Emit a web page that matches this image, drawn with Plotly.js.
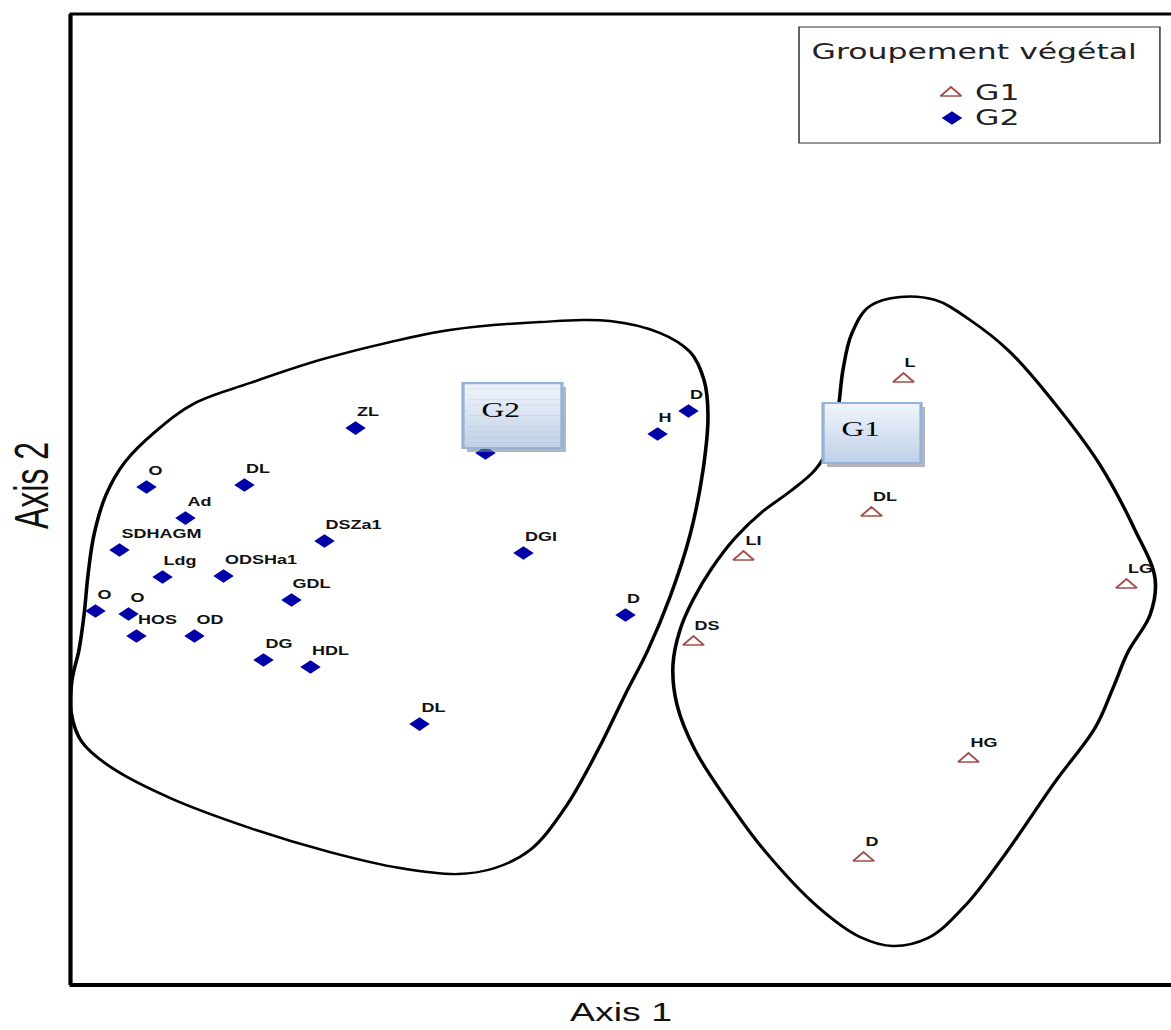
<!DOCTYPE html>
<html><head><meta charset="utf-8">
<script src="https://cdn.plot.ly/plotly-3.0.1.min.js"></script>
<style>
html,body{margin:0;padding:0;background:#fff;overflow:hidden;width:1171px;height:1030px}
#wrap{width:1171px;height:1030px;overflow:hidden;position:relative}
#chart{width:781px;height:1030px;transform:scaleX(1.5);transform-origin:0 0}
</style></head>
<body><div id="wrap"><div id="chart"></div></div>
<script>
// ---- data (arbitrary ordination units) ----
const g2Labels = ['O','DL','Ad','SDHAGM','Ldg','ODSHa1','O','O','HOS','OD','GDL','DG','HDL','DSZa1','ZL','','DGI','DL','H','D','D'];
const g2X = [6.90,15.80,10.44,4.45,8.36,13.90,2.27,5.27,5.99,11.26,20.07,17.53,21.80,23.07,25.89,37.69,41.14,31.70,53.32,56.13,50.41];
const g2Y = [51.44,51.64,48.25,44.97,42.20,42.30,38.71,38.40,36.14,36.14,39.84,33.68,32.96,45.89,57.49,54.93,44.66,27.10,56.88,59.24,38.30];

const g1Labels = ['L','DL','LI','LG','DS','HG','D'];
const g1X = [75.66,72.75,61.13,95.91,56.58,81.56,72.03];
const g1Y = [62.53,48.77,44.25,41.38,35.52,23.51,13.35];

// hand-drawn group outlines
const g2HullX = [34.47,42.64,49.00,53.54,56.27,57.54,57.90,57.45,56.27,54.45,52.45,50.36,47.91,44.91,41.74,38.56,35.20,29.93,23.57,16.30,9.04,3.77,1.04,0.05,0.14,0.77,1.23,1.59,2.13,3.22,4.95,7.67,11.31,16.30,22.66,29.02,34.47];
const g2HullY = [67.56,68.38,68.48,67.25,65.30,62.42,58.83,53.18,46.51,40.14,34.70,30.08,24.44,18.48,14.17,12.32,11.70,12.32,13.96,16.43,19.51,22.59,25.26,28.34,31.62,34.70,38.30,42.40,46.51,50.62,54.00,57.08,60.06,62.11,64.48,66.32,67.56];

const g1HullX = [89.87,93.51,96.69,98.50,98.05,96.05,94.69,93.05,89.42,84.51,81.15,77.88,74.70,71.71,67.89,62.99,59.63,56.72,55.09,54.72,55.36,56.54,58.26,60.35,62.81,65.53,67.62,68.98,69.71,70.16,70.98,72.62,75.34,78.52,81.70,85.33,89.87];
const g1HullY = [59.34,53.70,47.02,42.09,38.30,34.50,30.80,26.69,21.15,13.14,8.32,5.13,4.31,5.24,8.32,14.17,19.30,24.44,29.06,33.16,36.76,39.84,43.12,46.20,48.87,51.13,53.18,55.75,59.34,63.45,67.25,70.02,70.94,70.64,68.58,65.30,59.34];

const groupNames = ['G1','G2'];
const legendTitle = 'Groupement végétal';
const axisTitles = ['Axis 1','Axis 2'];

// ---- styles ----
const labelFont = {family:'Liberation Sans, Arial, sans-serif', size:12, color:'#111', weight:'bold'};
const g1Marker = {symbol:'triangle-up-open', size:12, color:'#a2504e', line:{width:1.5, color:'#a2504e'}};
const g2Marker = {symbol:'diamond', size:10.5, color:'#0000a8', line:{width:0}};
const hullLine = {color:'#000', width:2.4, shape:'spline', smoothing:1};

const traces = [
  {x:g2HullX, y:g2HullY, mode:'lines', line:hullLine, hoverinfo:'skip', showlegend:false},
  {x:g1HullX, y:g1HullY, mode:'lines', line:hullLine, hoverinfo:'skip', showlegend:false},
  {x:g1X, y:g1Y, mode:'markers', name:groupNames[0], marker:g1Marker, text:g1Labels},
  {x:g2X, y:g2Y, mode:'markers', name:groupNames[1], marker:g2Marker, text:g2Labels},
  // legend symbols on a hidden overlay axis (0..1 = plot area)
  {x:[0.7997], y:[0.9189], xaxis:'x2', yaxis:'y2', mode:'markers', marker:g1Marker, showlegend:false, hoverinfo:'skip'},
  {x:[0.8006], y:[0.8932], xaxis:'x2', yaxis:'y2', mode:'markers', marker:g2Marker, showlegend:false, hoverinfo:'skip'}
];

const annotations = [];
function addLabels(xs, ys, ls){
  xs.forEach((x,i)=>{ if(ls[i]) annotations.push({x:x, y:ys[i], xref:'x', yref:'y', text:ls[i], showarrow:false,
    xanchor:'left', yanchor:'middle', xshift:-1, yshift:16, font:labelFont}); });
}
addLabels(g2X, g2Y, g2Labels);
addLabels(g1X, g1Y, g1Labels);

const legFont = {family:'DejaVu Sans, sans-serif', size:21, color:'#222'};
annotations.push({xref:'paper', yref:'paper', x:0.8215, y:0.961, text:legendTitle, showarrow:false, xanchor:'center', yanchor:'middle', font:legFont});
annotations.push({xref:'paper', yref:'paper', x:0.8190, y:0.9189, text:groupNames[0], showarrow:false, xanchor:'left', yanchor:'middle', font:legFont});
annotations.push({xref:'paper', yref:'paper', x:0.8190, y:0.8932, text:groupNames[1], showarrow:false, xanchor:'left', yanchor:'middle', font:legFont});

const boxFont = {family:'Liberation Serif, Times New Roman, serif', size:21, color:'#000'};
annotations.push({xref:'paper', yref:'paper', x:0.3910, y:0.5934, text:groupNames[1], showarrow:false, xanchor:'center', yanchor:'middle', font:boxFont});
annotations.push({xref:'paper', yref:'paper', x:0.7180, y:0.5739, text:groupNames[0], showarrow:false, xanchor:'center', yanchor:'middle', font:boxFont});

// vertical axis title (placed as rotated text, slightly above the plot centre as in the picture)
annotations.push({xref:'paper', yref:'paper', x:-0.0355, y:0.5164, text:axisTitles[1], showarrow:false, textangle:-90, xanchor:'center', yanchor:'middle',
  font:{family:'Liberation Sans, Arial, sans-serif', size:32, color:'#111'}});

const shapes = [];
// frame: left, top, bottom (right edge is outside the picture)
shapes.push({type:'line', xref:'paper', yref:'paper', x0:0, x1:0, y0:0.003, y1:1.0, line:{color:'#000', width:2.8}});
shapes.push({type:'line', xref:'paper', yref:'paper', x0:-0.0009, x1:1.01, y0:1.0, y1:1.0, line:{color:'#000', width:3}});
shapes.push({type:'line', xref:'paper', yref:'paper', x0:-0.0009, x1:1.01, y0:0.003, y1:0.003, line:{color:'#000', width:4}});
// legend frame
shapes.push({type:'rect', xref:'paper', yref:'paper', x0:0.6617, x1:0.9895, y0:0.8676, y1:0.9867, line:{color:'#333', width:1}, fillcolor:'rgba(255,255,255,1)', layer:'below'});

// text boxes "G2" and "G1"
function textBox(x0,x1,y0,y1){
  const dx = 0.0036, dy = 0.0041;
  shapes.push({type:'rect', xref:'paper', yref:'paper', x0:x0+dx, x1:x1+dx, y0:y0-dy, y1:y1-dy, line:{width:0}, fillcolor:'rgba(130,130,140,0.6)'});
  const n = 12, top=[240,244,250], bot=[192,208,232];
  for(let i=0;i<n;i++){
    const t=(i+0.5)/n;
    const c = top.map((v,k)=>Math.round(v+(bot[k]-v)*t));
    shapes.push({type:'rect', xref:'paper', yref:'paper', x0:x0, x1:x1, y1:y1-(y1-y0)*i/n, y0:y1-(y1-y0)*(i+1)/n,
      line:{width:0}, fillcolor:'rgb('+c.join(',')+')'});
  }
  shapes.push({type:'rect', xref:'paper', yref:'paper', x0:x0, x1:x1, y0:y0, y1:y1, line:{color:'#95b3d7', width:2.2}, fillcolor:'rgba(0,0,0,0)'});
}
textBox(0.3565,0.4464,0.5544,0.6211);
textBox(0.6835,0.7725,0.5390,0.6006);

const axCommon = {showgrid:false, zeroline:false, showticklabels:false, ticks:'', showline:false, fixedrange:true};
const layout = {
  width:781, height:1030,
  margin:{l:47, r:0, t:14, b:42, pad:0},
  paper_bgcolor:'#fff', plot_bgcolor:'#fff',
  showlegend:false,
  xaxis:Object.assign({range:[0,100], title:{text:axisTitles[0], standoff:15, font:{family:'Liberation Sans, Arial, sans-serif', size:25, color:'#111'}}}, axCommon),
  yaxis:Object.assign({range:[0,100]}, axCommon),
  xaxis2:Object.assign({range:[0,1], overlaying:'x', anchor:'y2', visible:false}, axCommon),
  yaxis2:Object.assign({range:[0,1], overlaying:'y', anchor:'x2', visible:false}, axCommon),
  shapes:shapes, annotations:annotations
};
Plotly.newPlot('chart', traces, layout, {staticPlot:true, displayModeBar:false});
</script></body></html>
